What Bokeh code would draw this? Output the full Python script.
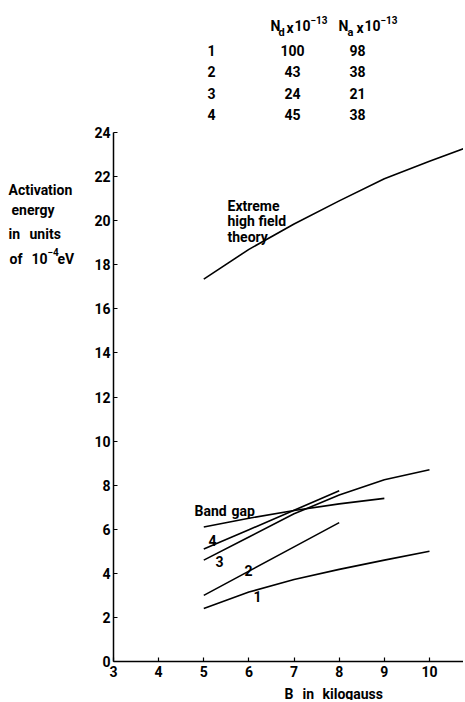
from bokeh.plotting import figure
from bokeh.models import Label, FixedTicker, Range1d, LinearAxis
from bokeh.embed import file_html
from bokeh.resources import INLINE

# ---- data ----
x_ticks = [3, 4, 5, 6, 7, 8, 9, 10]
y_ticks = [0, 2, 4, 6, 8, 10, 12, 14, 16, 18, 20, 22, 24]

extreme_B = [5, 6, 7, 8, 9, 10, 10.8]
extreme_E = [17.35, 18.7, 19.85, 20.9, 21.9, 22.7, 23.3]

bandgap_B = [5, 6, 7, 8, 9]
bandgap_E = [6.1, 6.5, 6.85, 7.15, 7.4]

c1_B = [5, 6, 7, 8, 9, 10]
c1_E = [2.4, 3.15, 3.72, 4.18, 4.6, 5.0]

c2_B = [5, 6, 7, 8]
c2_E = [3.0, 4.1, 5.2, 6.3]

c3_B = [5, 6, 7, 8, 9, 10]
c3_E = [4.6, 5.65, 6.7, 7.55, 8.25, 8.7]

c4_B = [5, 6, 7, 8]
c4_E = [5.1, 5.98, 6.86, 7.75]

sample_ids = ["1", "2", "3", "4"]
nd_values = [100, 43, 24, 45]
na_values = [98, 38, 21, 38]

FONT = "Roboto"
FS = "14px"
W, H = 463, 700
OX, OY = 1, 1                 # canvas origin on the page
X0, XPU = 114.0, 45.14        # page x of B=3, pixels per kilogauss
Y0, YPU = 662.0, 22.04        # page y of E=0, pixels per unit

def px2x(px):
    return 3 + (px - X0) / XPU

def py2y(py):
    return (Y0 - py) / YPU

p = figure(width=W, height=H,
           x_range=Range1d(px2x(OX), px2x(OX + W)),
           y_range=Range1d(py2y(OY + H), py2y(OY)),
           x_axis_location=None, y_axis_location=None,
           output_backend="svg", toolbar_location=None, min_border=0)
p.outline_line_color = None
p.grid.visible = False

xaxis = LinearAxis(fixed_location=0, bounds=(3, px2x(OX + W)), ticker=FixedTicker(ticks=x_ticks))
yaxis = LinearAxis(fixed_location=3, bounds=(0, 24), ticker=FixedTicker(ticks=y_ticks))
p.add_layout(xaxis, "below")
p.add_layout(yaxis, "left")

for ax in (xaxis, yaxis):
    ax.major_tick_in = 4
    ax.major_tick_out = 0
    ax.minor_tick_line_color = None
    ax.axis_line_width = 1.5
    ax.axis_line_color = "black"
    ax.major_tick_line_color = "black"
    ax.major_tick_line_width = 1.2
    ax.major_label_text_font = FONT
    ax.major_label_text_font_size = FS
    ax.major_label_text_font_style = "bold"
    ax.major_label_text_color = "black"
yaxis.major_label_standoff = 3
xaxis.major_label_standoff = 4

for bx, ey in ((extreme_B, extreme_E), (bandgap_B, bandgap_E), (c1_B, c1_E),
               (c2_B, c2_E), (c3_B, c3_E), (c4_B, c4_E)):
    p.line(bx, ey, line_color="black", line_width=1.6, line_join="round")

def lab(text, px, py, size=FS, align="left", baseline="middle", style="bold"):
    p.add_layout(Label(x=px2x(px), y=py2y(py), text=text, text_font=FONT,
                       text_font_size=size, text_font_style=style, text_color="black",
                       text_align=align, text_baseline=baseline))

# curve labels
lab("1", 258, 597, align="center")
lab("2", 249, 571, align="center")
lab("3", 220, 562, align="center")
lab("4", 213, 541, align="center")
lab("Band", 195, 511)
lab("gap", 232, 511)
lab("Extreme", 228, 206)
lab("high", 228, 221)
lab("field", 259, 221)
lab("theory", 228, 237)

# y-axis title
lab("Activation", 9, 190)
lab("energy", 12, 210)
lab("in", 9, 234)
lab("units", 30, 234)
lab("of", 10, 259)
lab("10", 32, 259)
lab("\u22124", 48, 252, size="10px")
lab("eV", 58, 259)

# x-axis title
lab("B", 285, 694)
lab("in", 303, 694)
lab("kilogauss", 323, 694)

# table header
lab("N", 271, 26)
lab("d", 279, 33, size="11px")
lab("x", 287, 28)
lab("10", 295, 26)
lab("\u221213", 311, 20, size="10px")
lab("N", 339, 26)
lab("a", 348, 33, size="11px")
lab("x", 357, 28)
lab("10", 365, 26)
lab("\u221213", 381, 20, size="10px")

row_y = [51, 72, 94, 115]
for sid, nd, na, ry in zip(sample_ids, nd_values, na_values, row_y):
    lab(sid, 212, ry, align="center")
    lab(str(nd), 293, ry, align="center")
    lab(str(na), 358, ry, align="center")

open("out.html", "w").write(file_html(p, INLINE))
